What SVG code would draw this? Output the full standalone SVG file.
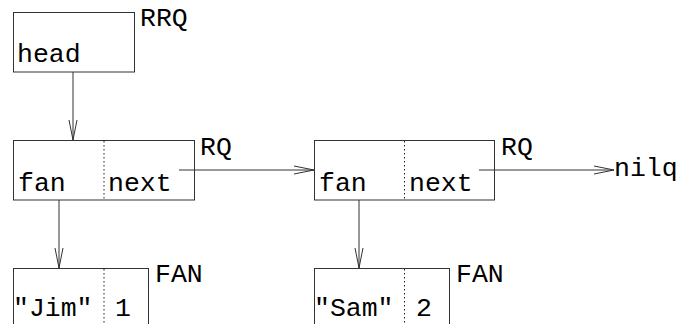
<svg xmlns="http://www.w3.org/2000/svg" width="682" height="324" viewBox="0 0 682 324">
<style>
.box{fill:#fff;stroke:#333;stroke-width:1}
.div{stroke:#222;stroke-width:1;stroke-dasharray:1.5,2.5}
.t{font-family:"Liberation Mono","DejaVu Sans Mono",monospace;font-size:26.5px;fill:#000}
.c{stroke:#333;stroke-width:1;fill:none}
</style>
<defs>
<marker id="ah" markerUnits="userSpaceOnUse" markerWidth="24" markerHeight="12" refX="20" refY="5" orient="auto" viewBox="0 0 24 12">
<path d="M0,1 L20,5 L0,9" fill="none" stroke="#333" stroke-width="1"/>
</marker>
</defs>
<g id="connectors">
<line class="c" x1="73" y1="72" x2="73" y2="140" marker-end="url(#ah)"/>
<line class="c" x1="179" y1="170" x2="314" y2="170" marker-end="url(#ah)"/>
<line class="c" x1="479" y1="170" x2="614" y2="170" marker-end="url(#ah)"/>
<line class="c" x1="59" y1="200" x2="59" y2="268" marker-end="url(#ah)"/>
<line class="c" x1="359" y1="200" x2="359" y2="268" marker-end="url(#ah)"/>
</g>
<g id="head">
<rect class="box" x="13.5" y="12.5" width="121" height="59.5"/>
<text class="t" x="17" y="62">head</text>
<text class="t" x="140" y="26">RRQ</text>
</g>
<g id="rq1">
<rect class="box" x="13.5" y="140.5" width="181" height="59.5" fill-opacity="0"/>
<line class="div" x1="104" y1="141" x2="104" y2="200"/>
<text class="t" x="18" y="191">fan</text>
<text class="t" x="108" y="191">next</text>
<text class="t" x="200" y="155">RQ</text>
</g>
<g id="rq2">
<rect class="box" x="314.5" y="140.5" width="180" height="59.5" fill-opacity="0"/>
<line class="div" x1="404.5" y1="141" x2="404.5" y2="200"/>
<text class="t" x="319" y="191">fan</text>
<text class="t" x="409" y="191">next</text>
<text class="t" x="501" y="155">RQ</text>
</g>
<g id="nilq">
<text class="t" x="614" y="176">nilq</text>
</g>
<g id="fan1">
<rect class="box" x="13.5" y="268.5" width="135" height="70"/>
<line class="div" x1="104" y1="269" x2="104" y2="324"/>
<text class="t" x="13" y="316">"Jim"</text>
<text class="t" x="115" y="316">1</text>
<text class="t" x="155" y="282">FAN</text>
</g>
<g id="fan2">
<rect class="box" x="314.5" y="268.5" width="135" height="70"/>
<line class="div" x1="404.5" y1="269" x2="404.5" y2="324"/>
<text class="t" x="314" y="316">"Sam"</text>
<text class="t" x="416" y="316">2</text>
<text class="t" x="456" y="282">FAN</text>
</g>
</svg>
